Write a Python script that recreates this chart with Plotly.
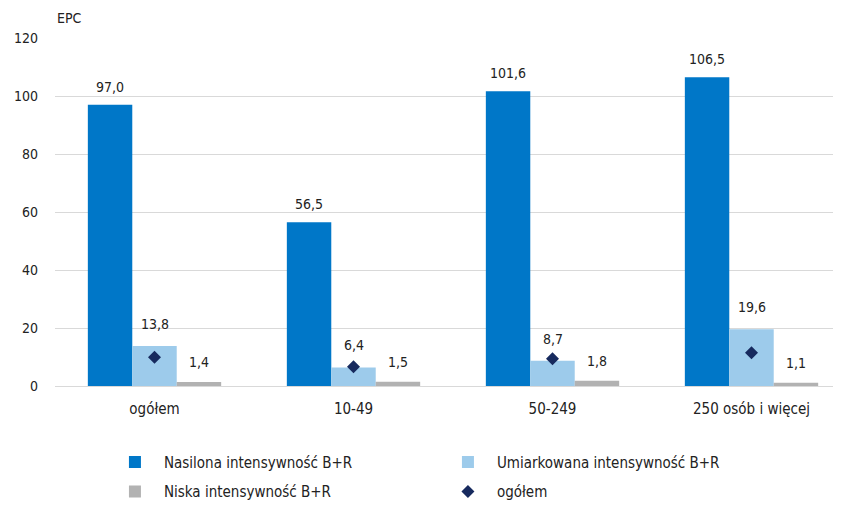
import plotly.graph_objects as go

categories = ["ogółem", "10-49", "50-249", "250 osób i więcej"]
nasilona = [97.0, 56.5, 101.6, 106.5]
umiarkowana = [13.8, 6.4, 8.7, 19.6]
niska = [1.4, 1.5, 1.8, 1.1]
ogolem = [9.9, 6.6, 9.4, 11.5]
y_ticks = [0, 20, 40, 60, 80, 100, 120]

FONT = "DejaVu Sans Condensed, DejaVu Sans, sans-serif"
TXT = "#222222"
xpos = list(range(len(categories)))
BARGAP = 0.33
bar_w = (1 - BARGAP) / 3


def fmt(v):
    return f"{v:.1f}".replace(".", ",")


series = [
    ("Nasilona intensywność B+R", nasilona, "#0077C8", "legend", 8),
    ("Umiarkowana intensywność B+R", umiarkowana, "#9DCBEB", "legend", 12),
    ("Niska intensywność B+R", niska, "#B2B2B2", "legend2", 10),
]

fig = go.Figure()
annotations = []
for i, (name, vals, col, lg, shift) in enumerate(series):
    fig.add_trace(go.Bar(
        x=xpos, y=vals, name=name, width=bar_w,
        offset=(i - 1.5) * bar_w,
        marker=dict(color=col, line=dict(width=0)), legend=lg))
    for xp, v in zip(xpos, vals):
        annotations.append(dict(
            x=xp + (i - 1) * bar_w, y=v, xref="x", yref="y", text=fmt(v),
            showarrow=False, xanchor="center", yanchor="bottom", yshift=shift,
            font=dict(size=14, family=FONT, color=TXT)))

fig.add_trace(go.Scatter(
    x=xpos, y=ogolem, name="ogółem", mode="markers",
    marker=dict(symbol="diamond", size=10, color="#172A5E"),
    cliponaxis=False, legend="legend2"))

annotations.append(dict(text="EPC", xref="paper", yref="paper", x=0.0, y=1.058,
                        xanchor="left", yanchor="middle", showarrow=False,
                        font=dict(size=14, family=FONT, color=TXT)))

legend_common = dict(orientation="h", x=0.064, xanchor="left", yanchor="middle",
                     entrywidth=270, itemwidth=48,
                     font=dict(size=15, family=FONT, color=TXT), traceorder="normal")

fig.update_layout(
    width=843, height=506,
    margin=dict(l=47, r=0, t=30, b=128, autoexpand=False),
    paper_bgcolor="white", plot_bgcolor="white",
    font=dict(family=FONT, size=14, color=TXT),
    barmode="overlay",
    legend=dict(y=-0.219, **legend_common),
    legend2=dict(y=-0.304, **legend_common),
    annotations=annotations,
)
fig.update_xaxes(
    range=[-0.5, 3.5], tickmode="array", tickvals=xpos, ticktext=categories,
    showgrid=False, showline=False, ticks="", tickfont=dict(size=15, family=FONT, color=TXT),
    zeroline=False, ticklabelstandoff=12, automargin=False)
fig.update_yaxes(
    range=[0, 120], tickmode="array", tickvals=y_ticks,
    showgrid=True, gridcolor="#D9D9D9", gridwidth=1,
    zeroline=True, zerolinecolor="#D9D9D9", zerolinewidth=1,
    showline=False, ticks="", ticklabelstandoff=16, automargin=False,
    tickfont=dict(size=14, family=FONT, color=TXT))

fig.write_html("out.html")
